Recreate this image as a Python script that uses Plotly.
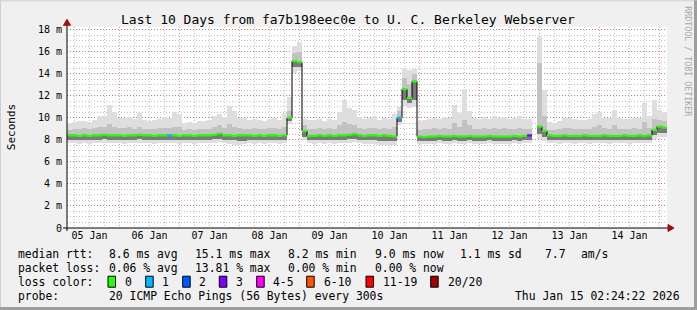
import numpy as np
import pandas as pd
import plotly.graph_objects as go

# ---------------- data ----------------
title_text = "Last 10 Days from fa7b198eec0e to U. C. Berkeley Webserver"
start_time = "2026-01-05 03:00"
step_hours = 2

median = [
    8.4, 8.4, 8.35, 8.4, 8.35, 8.4, 8.4, 8.45, 8.4, 8.4,
    8.4, 8.35, 8.4, 8.4, 8.45, 8.4, 8.4, 8.35, 8.4, 8.4,
    8.4, 8.4, 8.35, 8.4, 8.4, 8.35, 8.4, 8.4, 8.4, 8.45,
    8.55, 8.4, 8.4, 8.35, 8.4, 8.4, 8.4, 8.35, 8.4, 8.35,
    8.4, 8.4, 8.35, 8.4,
    10.0, 15.15, 15.05, 8.8,
    8.35, 8.35, 8.4, 8.35, 8.4, 8.35, 8.4, 8.4, 8.45, 8.5, 8.4, 8.35, 8.4, 8.4, 8.35, 8.4, 8.35, 8.3,
    10.0, 12.6, 11.8, 13.3,
    8.3, 8.25, 8.3, 8.3, 8.35, 8.3, 8.3, 8.35, 8.3, 8.3, 8.35, 8.3, 8.3, 8.3, 8.35, 8.3, 8.3, 8.3, 8.3, 8.35, 8.3, 8.35, 8.4,
    None,
    9.2, 8.8,
    8.4, 8.35, 8.35, 8.4, 8.35, 8.35, 8.35, 8.4, 8.35, 8.35, 8.35, 8.4, 8.35, 8.35, 8.35, 8.4, 8.35, 8.35, 8.4, 8.35, 8.4,
    8.9, 9.2, 9.1,
]

loss = [0] * 120
loss[20] = 1
loss[66] = 1
loss[92] = 3

smoke_max = [
    9.5, 9.6, 9.7, 9.7, 9.6, 9.8, 10.2, 10.2, 11.2, 10.5,
    10.0, 10.0, 10.1, 9.9, 10.4, 9.8, 9.7, 9.8, 9.9, 10.1,
    10.0, 10.5, 10.3, 9.5, 9.6, 9.5, 9.7, 9.7, 9.8, 10.2,
    10.3, 10.1, 11.1, 10.6, 10.0, 10.0, 9.8, 9.9, 9.8, 9.7,
    9.9, 10.0, 9.8, 10.4,
    11.9, 16.5, 16.9, 9.9,
    9.8, 9.8, 9.9, 9.7, 9.9, 9.8, 10.5, 11.6, 10.9, 10.7, 10.1, 9.9, 10.0, 10.2, 9.8, 10.0, 9.9, 10.3,
    11.0, 14.5, 14.3, 14.4,
    9.7, 9.8, 9.9, 10.0, 9.9, 10.1, 10.0, 11.2, 10.4, 12.6, 10.6, 10.0, 9.9, 10.1, 9.9, 10.2, 10.0, 10.1, 9.9, 10.0, 10.2, 9.9, 9.9,
    None,
    17.3, 12.5,
    9.6, 9.5, 9.7, 10.0, 10.0, 9.9, 9.8, 9.8, 9.9, 10.3, 10.5, 10.0, 10.0, 10.7, 10.0, 9.9, 9.9, 10.0, 10.0, 11.3, 10.2,
    11.6, 10.7, 10.5,
]

smoke_hi = [
    8.9, 9.0, 9.0, 9.1, 9.0, 9.1, 9.2, 9.2, 9.4, 9.2,
    9.1, 9.1, 9.2, 9.0, 9.2, 9.0, 9.0, 9.0, 9.1, 9.1,
    9.1, 9.2, 9.2, 8.9, 9.0, 8.9, 9.0, 9.0, 9.0, 9.2,
    9.3, 9.1, 9.4, 9.2, 9.1, 9.0, 9.0, 9.1, 9.0, 9.0,
    9.1, 9.1, 9.0, 9.2,
    10.6, 15.9, 16.0, 9.3,
    9.0, 9.0, 9.1, 9.0, 9.1, 9.0, 9.3, 9.6, 9.4, 9.3, 9.1, 9.0, 9.1, 9.1, 9.0, 9.1, 9.0, 9.2,
    10.6, 13.6, 13.1, 14.0,
    8.9, 9.0, 9.0, 9.1, 9.0, 9.1, 9.0, 9.5, 9.2, 9.8, 9.3, 9.0, 9.0, 9.1, 9.0, 9.1, 9.0, 9.1, 9.0, 9.0, 9.1, 9.0, 9.0,
    None,
    15.0, 10.2,
    8.9, 8.9, 9.0, 9.1, 9.1, 9.0, 9.0, 9.0, 9.0, 9.2, 9.3, 9.1, 9.0, 9.3, 9.0, 9.0, 9.0, 9.1, 9.0, 9.6, 9.1,
    9.9, 9.8, 9.7,
]

smoke_lo = [
    8.0, 8.0, 7.95, 8.0, 7.95, 8.0, 8.0, 8.05, 8.0, 8.0,
    8.0, 7.95, 8.0, 8.0, 8.05, 8.0, 8.0, 7.95, 8.0, 8.0,
    8.0, 8.0, 7.95, 8.0, 8.0, 7.95, 8.0, 8.0, 8.0, 8.05,
    8.1, 8.0, 8.0, 7.95, 7.9, 7.9, 8.0, 7.95, 8.0, 7.95,
    8.0, 8.0, 7.95, 8.0,
    9.7, 14.6, 14.6, 8.3,
    7.95, 7.95, 8.0, 7.95, 8.0, 7.95, 8.0, 8.0, 8.05, 8.1, 8.0, 7.95, 8.0, 8.0, 7.9, 7.9, 7.85, 7.85,
    9.6, 11.6, 11.3, 11.6,
    7.9, 7.85, 7.9, 7.9, 7.95, 7.9, 7.9, 7.95, 7.9, 7.9, 7.95, 7.9, 7.9, 7.9, 7.95, 7.9, 7.9, 7.9, 7.9, 7.95, 7.9, 7.95, 8.0,
    None,
    8.5, 8.3,
    8.0, 7.95, 7.95, 8.0, 7.95, 7.95, 7.95, 8.0, 7.95, 7.95, 7.95, 8.0, 7.95, 7.95, 7.95, 8.0, 7.95, 7.95, 8.0, 7.95, 8.0,
    8.4, 8.6, 8.6,
]

smoke_min = [
    7.7, 7.7, 7.6, 7.7, 7.6, 7.7, 7.7, 7.7, 7.7, 7.7,
    7.7, 7.6, 7.7, 7.7, 7.7, 7.7, 7.7, 7.6, 7.7, 7.7,
    7.7, 7.7, 7.6, 7.7, 7.7, 7.6, 7.7, 7.7, 7.7, 7.7,
    7.8, 7.7, 7.6, 7.5, 7.5, 7.6, 7.7, 7.6, 7.7, 7.6,
    7.7, 7.7, 7.6, 7.7,
    9.4, 14.1, 14.2, 8.0,
    7.7, 7.6, 7.7, 7.6, 7.7, 7.6, 7.7, 7.7, 7.7, 7.8, 7.7, 7.6, 7.6, 7.6, 7.5, 7.5, 7.5, 7.5,
    9.3, 11.1, 10.9, 11.0,
    7.6, 7.6, 7.6, 7.6, 7.7, 7.6, 7.6, 7.7, 7.6, 7.6, 7.7, 7.6, 7.6, 7.6, 7.7, 7.6, 7.6, 7.6, 7.6, 7.7, 7.6, 7.7, 7.7,
    None,
    8.1, 7.9,
    7.7, 7.7, 7.6, 7.7, 7.7, 7.6, 7.7, 7.7, 7.6, 7.7, 7.7, 7.7, 7.6, 7.7, 7.7, 7.7, 7.6, 7.7, 7.7, 7.7, 7.7,
    8.1, 8.3, 8.3,
]

y_tickvals = [0, 2, 4, 6, 8, 10, 12, 14, 16, 18]
y_ticktext = ["0", "2 m", "4 m", "6 m", "8 m", "10 m", "12 m", "14 m", "16 m", "18 m"]

loss_labels = ["0", "1", "2", "3", "4-5", "6-10", "11-19", "20/20"]
loss_colors = ["#26ff00", "#00b8ff", "#0059ff", "#7e00ff", "#ff00ff", "#ff5500", "#ff0000", "#a10000"]

stats_rtt = ["median rtt:", "8.6 ms avg", "15.1 ms max", "8.2 ms min", "9.0 ms now", "1.1 ms sd", "7.7", "am/s"]
stats_loss = ["packet loss:", "0.06 % avg", "13.81 % max", "0.00 % min", "0.00 % now"]
probe_text = ["probe:", "20 ICMP Echo Pings (56 Bytes) every 300s", "Thu Jan 15 02:24:22 2026"]

# ---------------- layout helpers (pixel -> paper) ----------------
W, H = 697, 310
L, R, T, B = 67, 667, 26.7, 228


def px(x):
    return (x - L) / (R - L)


def py(y):
    return (B - y) / (B - T)


MONO = "DejaVu Sans Mono"

n = len(median)
assert n == 120 and len(smoke_max) == n and len(smoke_hi) == n and len(smoke_lo) == n and len(smoke_min) == n

t0 = pd.Timestamp(start_time)
step = pd.Timedelta(hours=step_hours)
t_left = [t0 + step * i for i in range(n + 1)]
t_mid = [t0 + step * i + step / 2 for i in range(n)]
bw = step_hours * 3600 * 1000


def arr(a):
    return np.array([np.nan if v is None else v for v in a], dtype=float)


med = arr(median)
mx, hi, lo, mn = arr(smoke_max), arr(smoke_hi), arr(smoke_lo), arr(smoke_min)

fig = go.Figure()

# smoke bands
fig.add_trace(go.Bar(x=t_mid, y=mx - mn, base=mn, width=bw, marker=dict(color="#dedede", line=dict(width=0)),
                     hoverinfo="skip"))
fig.add_trace(go.Bar(x=t_mid, y=hi - lo, base=lo, width=bw, marker=dict(color="#c2c2c2", line=dict(width=0)),
                     hoverinfo="skip"))
fig.add_trace(go.Bar(x=t_mid, y=med - lo, base=lo, width=bw, marker=dict(color="#7a7a7a", line=dict(width=0)),
                     hoverinfo="skip"))

# median black step line
fig.add_trace(go.Scatter(x=t_left, y=list(med) + [med[-1]], mode="lines", line=dict(color="#000000", width=1, shape="hv"),
                         connectgaps=False, hoverinfo="skip"))

# loss-coloured median segments
loss_bucket = {0: 0, 1: 1, 2: 2, 3: 3, 4: 4, 5: 4}
for ci, col in enumerate(loss_colors):
    xs, ys = [], []
    for i in range(n):
        if median[i] is None:
            continue
        lv = loss[i]
        b = loss_bucket.get(lv, 5 if lv <= 10 else (6 if lv < 20 else 7))
        if b != ci:
            continue
        xs += [t_left[i], t_left[i + 1], None]
        ys += [median[i], median[i], None]
    if xs:
        fig.add_trace(go.Scatter(x=xs, y=ys, mode="lines", line=dict(color=col, width=2.2), hoverinfo="skip"))

grid_red = "rgba(235,60,60,0.55)"
grid_gray = "rgba(120,120,120,0.45)"

fig.update_layout(
    width=W, height=H,
    margin=dict(l=L, r=W - R, t=T, b=H - B),
    paper_bgcolor="#f0f0f0",
    plot_bgcolor="#ffffff",
    showlegend=False,
    barmode="overlay",
    bargap=0,
    font=dict(family=MONO, size=10, color="#000000"),
    xaxis=dict(
        type="date",
        range=[t0, t_left[-1]],
        tick0="2026-01-05 00:00", dtick=86400000,
        tickformat="%d %b", ticklabelmode="period",
        showgrid=True, gridcolor=grid_red, griddash="1px,2px", gridwidth=1,
        minor=dict(dtick=6 * 3600 * 1000, tick0="2026-01-05 00:00", showgrid=True, gridcolor=grid_gray,
                   griddash="1px,2px", gridwidth=1),
        showline=False, zeroline=False, ticks="",
        tickfont=dict(family=MONO, size=10, color="#000000"),
        fixedrange=True,
    ),
    yaxis=dict(
        range=[0, (B - T) / 11.04],
        tickvals=y_tickvals, ticktext=y_ticktext,
        showgrid=True, gridcolor=grid_red, griddash="1px,2px", gridwidth=1,
        minor=dict(dtick=0.5, tick0=0, showgrid=True, gridcolor=grid_gray, griddash="1px,2px", gridwidth=1),
        showline=False, zeroline=False, ticks="",
        tickfont=dict(family=MONO, size=10, color="#000000"),
        ticklabelstandoff=4,
        fixedrange=True,
    ),
)

shapes = []
# canvas bevel
shapes.append(dict(type="line", xref="paper", yref="paper", x0=px(0), x1=px(W), y0=py(0.5), y1=py(0.5),
                   line=dict(color="#cfcfcf", width=1)))
shapes.append(dict(type="line", xref="paper", yref="paper", x0=px(0.5), x1=px(0.5), y0=py(0), y1=py(H),
                   line=dict(color="#cfcfcf", width=1)))
shapes.append(dict(type="line", xref="paper", yref="paper", x0=px(0), x1=px(W), y0=py(H - 1.5), y1=py(H - 1.5),
                   line=dict(color="#9e9e9e", width=3)))
shapes.append(dict(type="line", xref="paper", yref="paper", x0=px(W - 1.5), x1=px(W - 1.5), y0=py(0), y1=py(H),
                   line=dict(color="#9e9e9e", width=3)))
# axes
shapes.append(dict(type="line", xref="paper", yref="paper", x0=px(63), x1=px(670), y0=0, y1=0,
                   line=dict(color="#000000", width=1), layer="above"))
shapes.append(dict(type="line", xref="paper", yref="paper", x0=0, x1=0, y0=py(231), y1=py(23),
                   line=dict(color="#000000", width=1), layer="above"))
# arrows
shapes.append(dict(type="path", xref="paper", yref="paper",
                   path=f"M {px(668)} {py(224.5)} L {px(674)} {py(228)} L {px(668)} {py(231.5)} Z",
                   fillcolor="#a01010", line=dict(color="#a01010", width=1), layer="above"))
shapes.append(dict(type="path", xref="paper", yref="paper",
                   path=f"M {px(63.5)} {py(25)} L {px(67)} {py(19)} L {px(70.5)} {py(25)} Z",
                   fillcolor="#a01010", line=dict(color="#a01010", width=1), layer="above"))

annotations = []
annotations.append(dict(text=title_text, xref="paper", yref="paper", x=px(348), y=py(19), showarrow=False,
                        xanchor="center", yanchor="middle", font=dict(family=MONO, size=13, color="#000000")))
annotations.append(dict(text="Seconds", xref="paper", yref="paper", x=px(11), y=py(127), showarrow=False,
                        textangle=-90, xanchor="center", yanchor="middle",
                        font=dict(family=MONO, size=11, color="#000000")))
annotations.append(dict(text="RRDTOOL / TOBI OETIKER", xref="paper", yref="paper", x=px(688), y=py(61),
                        showarrow=False, textangle=90, xanchor="center", yanchor="middle",
                        font=dict(family=MONO, size=8.3, color="#a8a8a8")))

LEG = 11.4
row_y = [254.5, 268.3, 281.8, 296.5]
rtt_x = [16, 107, 193, 286, 372.7, 458.3, 542.7, 579.3]
for s, x in zip(stats_rtt, rtt_x):
    annotations.append(dict(text=s, xref="paper", yref="paper", x=px(x), y=py(row_y[0]), showarrow=False,
                            xanchor="left", yanchor="middle", font=dict(family=MONO, size=LEG, color="#000000")))
loss_x = [16, 107, 193, 286, 372.7]
for s, x in zip(stats_loss, loss_x):
    annotations.append(dict(text=s, xref="paper", yref="paper", x=px(x), y=py(row_y[1]), showarrow=False,
                            xanchor="left", yanchor="middle", font=dict(family=MONO, size=LEG, color="#000000")))
annotations.append(dict(text="loss color:", xref="paper", yref="paper", x=px(16), y=py(row_y[2]), showarrow=False,
                        xanchor="left", yanchor="middle", font=dict(family=MONO, size=LEG, color="#000000")))
sw_x = [108, 145.7, 182.7, 219.3, 256.7, 306.7, 366, 430.7]
lab_x = [123, 160, 197, 234, 270.7, 321.7, 380.7, 445.7]
for lab, col, sx, lx in zip(loss_labels, loss_colors, sw_x, lab_x):
    shapes.append(dict(type="rect", xref="paper", yref="paper", x0=px(sx), x1=px(sx + 7.5),
                       y0=py(row_y[2] + 5.5), y1=py(row_y[2] - 5.5),
                       fillcolor=col, line=dict(color="#000000", width=1)))
    annotations.append(dict(text=lab, xref="paper", yref="paper", x=px(lx), y=py(row_y[2]), showarrow=False,
                            xanchor="left", yanchor="middle", font=dict(family=MONO, size=LEG, color="#000000")))
probe_x = [16, 107, 513.3]
for s, x in zip(probe_text, probe_x):
    annotations.append(dict(text=s, xref="paper", yref="paper", x=px(x), y=py(row_y[3]), showarrow=False,
                            xanchor="left", yanchor="middle", font=dict(family=MONO, size=LEG, color="#000000")))

fig.update_layout(shapes=shapes, annotations=annotations)
fig.write_html("out.html")
